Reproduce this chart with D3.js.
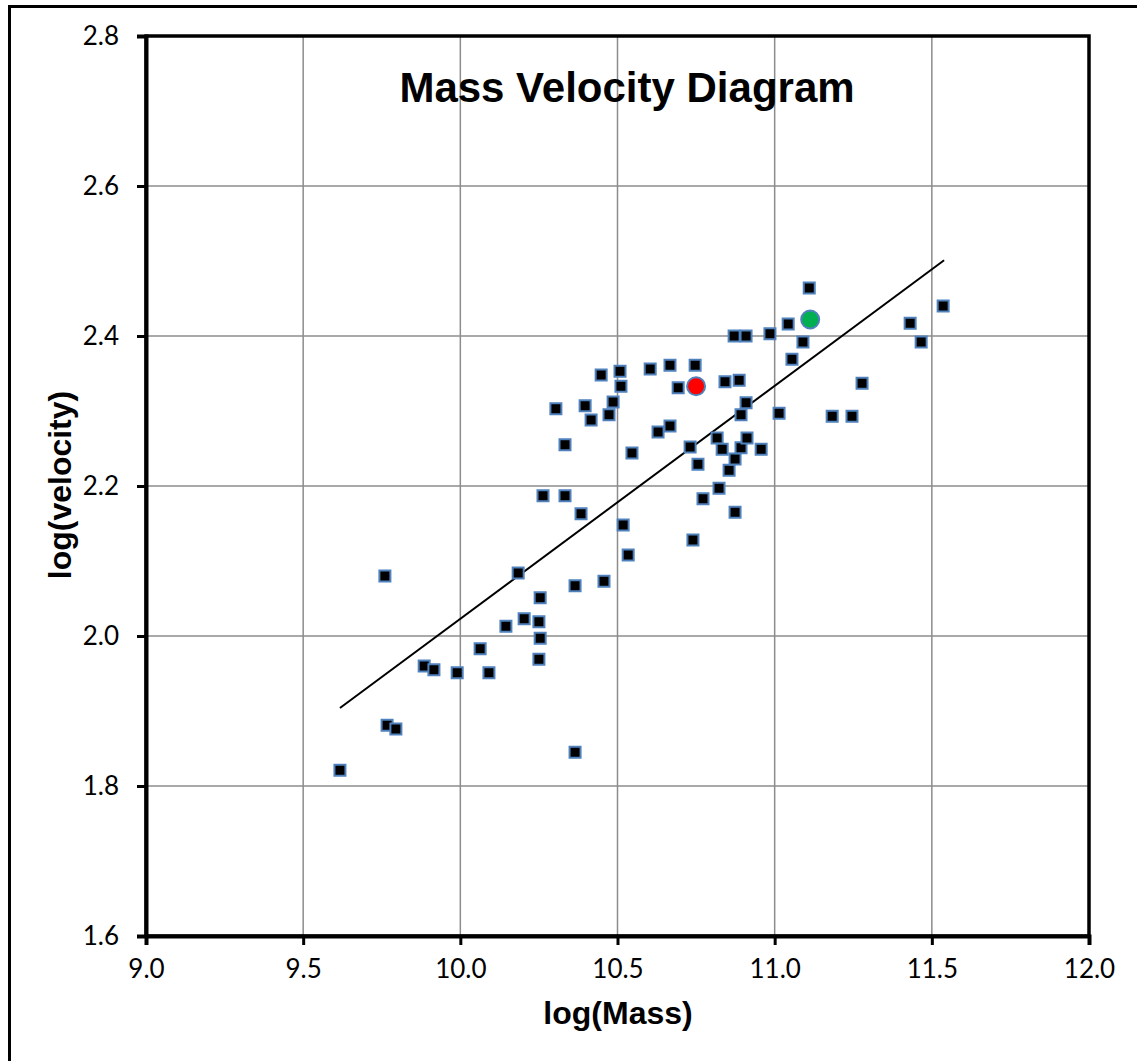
<!DOCTYPE html>
<html>
<head>
<meta charset="utf-8">
<script src="https://cdn.jsdelivr.net/npm/d3@7"></script>
<style>
  body { margin: 0; background: #fff; }
</style>
</head>
<body>
<div id="chart"></div>
<script>
// galaxy points: log(Mass), log(velocity)
const logMass = [9.617, 9.760, 9.767, 9.795, 9.885, 9.916, 9.990, 10.063, 10.091, 10.145,
  10.184, 10.203, 10.250, 10.254, 10.254, 10.250, 10.263, 10.304, 10.333, 10.333,
  10.365, 10.365, 10.384, 10.397, 10.416, 10.448, 10.457, 10.473, 10.486, 10.508,
  10.511, 10.518, 10.534, 10.546, 10.604, 10.629, 10.667, 10.667, 10.693, 10.731,
  10.740, 10.747, 10.756, 10.772, 10.817, 10.823, 10.833, 10.842, 10.855, 10.871,
  10.874, 10.874, 10.887, 10.893, 10.893, 10.909, 10.909, 10.912, 10.957, 10.985,
  11.014, 11.043, 11.055, 11.090, 11.110, 11.183, 11.246, 11.278, 11.431, 11.466, 11.536];
const logVelocity = [1.821, 2.080, 1.881, 1.876, 1.960, 1.955, 1.951, 1.983, 1.951, 2.013,
  2.084, 2.023, 2.019, 2.051, 1.997, 1.969, 2.187, 2.303, 2.255, 2.187,
  1.845, 2.067, 2.163, 2.307, 2.288, 2.348, 2.073, 2.295, 2.312, 2.353,
  2.333, 2.148, 2.108, 2.244, 2.356, 2.272, 2.361, 2.280, 2.331, 2.252,
  2.128, 2.361, 2.229, 2.183, 2.264, 2.197, 2.249, 2.339, 2.221, 2.400,
  2.236, 2.165, 2.341, 2.295, 2.251, 2.400, 2.311, 2.264, 2.249, 2.403,
  2.297, 2.416, 2.369, 2.392, 2.464, 2.293, 2.293, 2.337, 2.417, 2.392, 2.440];

// the two highlighted objects
const highlights = [
  { x: 10.75, y: 2.333, color: "#ff0000" },
  { x: 11.113, y: 2.422, color: "#00b050" }
];

// fitted line, ends
const trendX = [9.617, 11.539];
const trendY = [1.904, 2.501];

const xTicks = [9.0, 9.5, 10.0, 10.5, 11.0, 11.5, 12.0];
const yTicks = [1.6, 1.8, 2.0, 2.2, 2.4, 2.6, 2.8];

const W = 1137, H = 1061;
const plot = { left: 146, top: 36, right: 1089, bottom: 936 };

const svg = d3.select("#chart")
  .append("svg")
  .attr("width", W)
  .attr("height", H);

// outer chart frame
svg.append("rect")
  .attr("x", 9.5).attr("y", 6.5)
  .attr("width", W + 20).attr("height", H + 20)
  .attr("fill", "#fff")
  .attr("stroke", "#000")
  .attr("stroke-width", 3);

const x = d3.scaleLinear().domain([9, 12]).range([plot.left, plot.right]);
const y = d3.scaleLinear().domain([1.6, 2.8]).range([plot.bottom, plot.top]);

// grid
svg.append("g")
  .selectAll("line")
  .data(xTicks.slice(1, -1))
  .enter().append("line")
  .attr("x1", d => x(d)).attr("x2", d => x(d))
  .attr("y1", plot.top).attr("y2", plot.bottom)
  .attr("stroke", "#8c8c8c").attr("stroke-width", 1.5);
svg.append("g")
  .selectAll("line")
  .data(yTicks.slice(1, -1))
  .enter().append("line")
  .attr("x1", plot.left).attr("x2", plot.right)
  .attr("y1", d => y(d)).attr("y2", d => y(d))
  .attr("stroke", "#8c8c8c").attr("stroke-width", 1.5);

// plot frame (top & right)
svg.append("rect")
  .attr("x", plot.left).attr("y", plot.top)
  .attr("width", plot.right - plot.left).attr("height", plot.bottom - plot.top)
  .attr("fill", "none")
  .attr("stroke", "#000")
  .attr("stroke-width", 3.5);

// axes
const xAxis = svg.append("g")
  .attr("transform", "translate(0," + plot.bottom + ")")
  .call(d3.axisBottom(x).tickValues(xTicks).tickFormat(d3.format(".1f")).tickSize(9).tickPadding(15));
const yAxis = svg.append("g")
  .attr("transform", "translate(" + plot.left + ",0)")
  .call(d3.axisLeft(y).tickValues(yTicks).tickFormat(d3.format(".1f")).tickSize(9).tickPadding(18));

[xAxis, yAxis].forEach(function(a) {
  a.attr("font-size", 26).attr("font-family", "Lato, 'Open Sans', sans-serif");
  a.select(".domain").attr("stroke", "#000").attr("stroke-width", 4);
  a.selectAll(".tick line").attr("stroke", "#000").attr("stroke-width", 3);
  a.selectAll(".tick text")
    .attr("fill", "#000")
    .style("font-family", "Lato, 'Open Sans', sans-serif")
    .style("font-size", "26px");
});

// trend line
svg.append("line")
  .attr("x1", x(trendX[0])).attr("y1", y(trendY[0]))
  .attr("x2", x(trendX[1])).attr("y2", y(trendY[1]))
  .attr("stroke", "#000")
  .attr("stroke-width", 2);

// square markers
const pts = logMass.map((m, i) => ({ x: m, y: logVelocity[i] }));
svg.append("g")
  .selectAll("rect")
  .data(pts)
  .enter().append("rect")
  .attr("x", d => x(d.x) - 5.5)
  .attr("y", d => y(d.y) - 5.5)
  .attr("width", 11).attr("height", 11)
  .attr("fill", "#000")
  .attr("stroke", "#4f81bd")
  .attr("stroke-width", 2);

// highlighted galaxies
svg.append("g")
  .selectAll("circle")
  .data(highlights)
  .enter().append("circle")
  .attr("cx", d => x(d.x))
  .attr("cy", d => y(d.y))
  .attr("r", 9)
  .attr("fill", d => d.color)
  .attr("stroke", "#4f81bd")
  .attr("stroke-width", 2);

// title and axis labels
svg.append("text")
  .attr("x", 627).attr("y", 102)
  .attr("text-anchor", "middle")
  .style("font-family", "'Liberation Sans', Arial, sans-serif")
  .style("font-weight", "bold")
  .style("font-size", "42px")
  .text("Mass Velocity Diagram");

svg.append("text")
  .attr("x", 618).attr("y", 1024)
  .attr("text-anchor", "middle")
  .style("font-family", "'Liberation Sans', Arial, sans-serif")
  .style("font-weight", "bold")
  .style("font-size", "32px")
  .text("log(Mass)");

svg.append("text")
  .attr("transform", "translate(71," + 485 + ") rotate(-90)")
  .attr("text-anchor", "middle")
  .style("font-family", "'Liberation Sans', Arial, sans-serif")
  .style("font-weight", "bold")
  .style("font-size", "32px")
  .text("log(velocity)");
</script>
</body>
</html>
